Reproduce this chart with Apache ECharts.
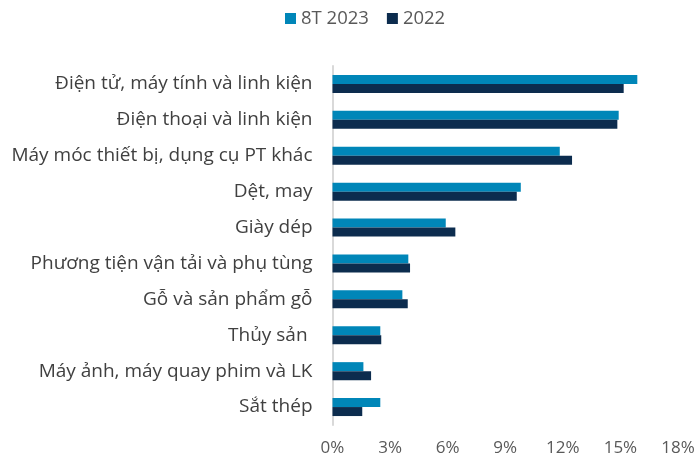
<!DOCTYPE html>
<html>
<head>
<meta charset="utf-8">
<script src="https://cdn.jsdelivr.net/npm/echarts@6/dist/echarts.min.js"></script>
<style>
html,body{margin:0;padding:0;background:#fff;}
#c{width:700px;height:464px;}
</style>
</head>
<body>
<div id="c"></div>
<script>
var categories = ["Điện tử, máy tính và linh kiện","Điện thoại và linh kiện","Máy móc thiết bị, dụng cụ PT khác","Dệt, may","Giày dép","Phương tiện vận tải và phụ tùng","Gỗ và sản phẩm gỗ","Thủy sản ","Máy ảnh, máy quay phim và LK","Sắt thép"];
var series2023 = [15.88,14.91,11.84,9.81,5.90,3.95,3.64,2.49,1.61,2.49];
var series2022 = [15.17,14.84,12.48,9.60,6.40,4.04,3.92,2.54,2.01,1.55];
var seriesNames = ["8T 2023","2022"];
var xTicks = [0,3,6,9,12,15,18];

var chart = echarts.init(document.getElementById('c'));
var font = '"Open Sans", "Noto Sans", sans-serif';
chart.setOption({
  animation:false,
  textStyle:{fontFamily:font},
  legend:{
    top:4, left:280,
    itemWidth:11, itemHeight:11, itemGap:18, itemTextGap:5,
    icon:'rect',
    textStyle:{fontSize:18.5,color:'#595959',fontFamily:font},
    data:seriesNames
  },
  grid:{left:332.5,right:22,top:66,bottom:39,containLabel:false},
  xAxis:{
    type:'value', min:xTicks[0], max:xTicks[xTicks.length-1], interval:3,
    axisLabel:{formatter:'{value}%',fontSize:17,color:'#595959',margin:15,fontFamily:font},
    splitLine:{show:false}, axisLine:{show:false}, axisTick:{show:false}
  },
  yAxis:{
    type:'category', data:categories, inverse:true,
    axisLabel:{fontSize:19,color:'#404040',margin:20,fontFamily:font},
    axisLine:{show:true,lineStyle:{color:'#d9d9d9',width:2}},
    axisTick:{show:false}
  },
  series:[
    {name:seriesNames[0],type:'bar',data:series2023,barWidth:9,barGap:'0%',itemStyle:{color:'#0086b8'}},
    {name:seriesNames[1],type:'bar',data:series2022,barWidth:9,barGap:'0%',itemStyle:{color:'#0c2c4e'}}
  ]
});
</script>
</body>
</html>
